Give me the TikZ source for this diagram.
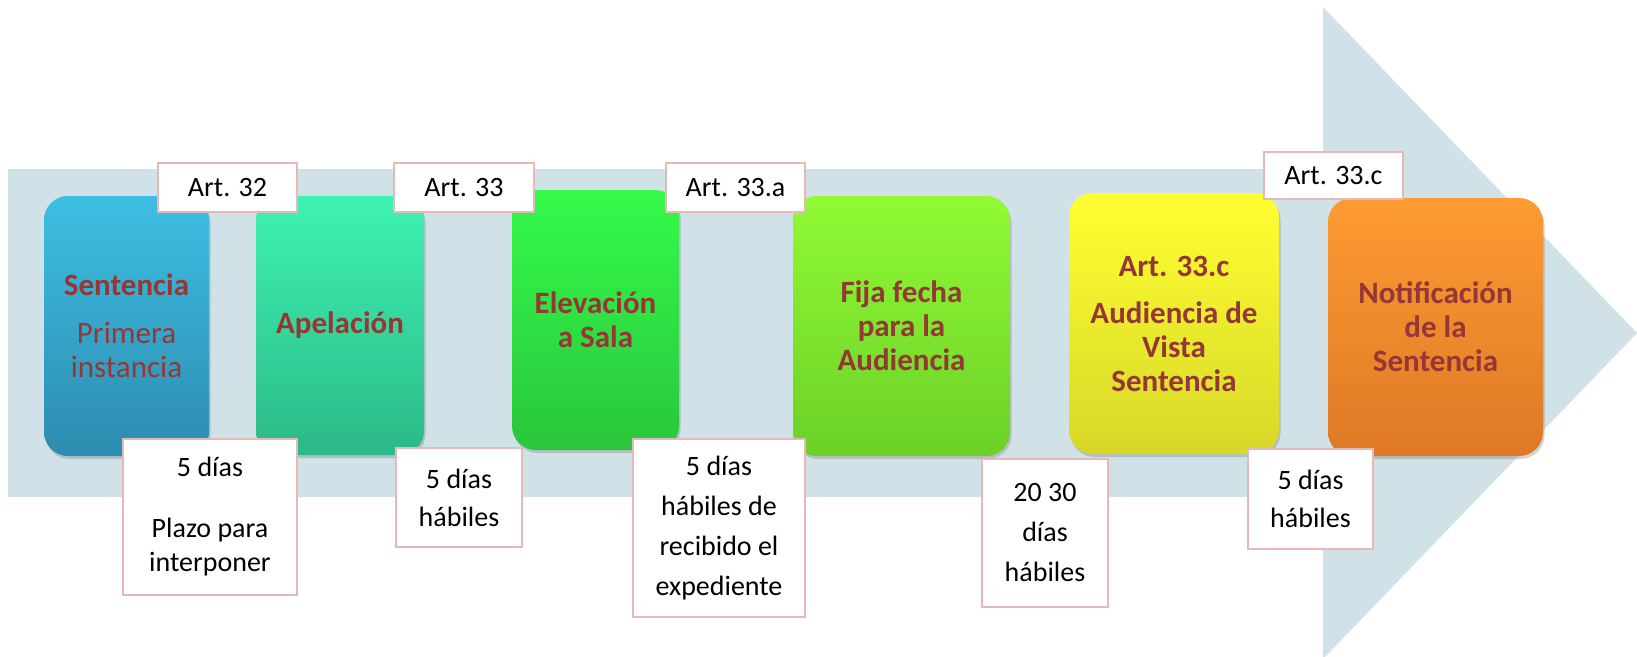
\documentclass[tikz,border=0pt]{standalone}
\usepackage{fontspec}
\setmainfont{Carlito}
\usetikzlibrary{shadows}
\definecolor{arrowbg}{RGB}{208,225,232}
\definecolor{txtred}{RGB}{149,55,53}
\definecolor{lblborder}{RGB}{230,184,183}
\definecolor{blueT}{RGB}{62,190,228}
\definecolor{blueB}{RGB}{44,140,175}
\definecolor{tealT}{RGB}{62,242,178}
\definecolor{tealB}{RGB}{44,185,135}
\definecolor{greenT}{RGB}{52,250,74}
\definecolor{greenB}{RGB}{42,198,60}
\definecolor{limeT}{RGB}{145,250,52}
\definecolor{limeB}{RGB}{108,208,40}
\definecolor{yelT}{RGB}{255,255,50}
\definecolor{yelB}{RGB}{215,215,40}
\definecolor{oraT}{RGB}{255,155,50}
\definecolor{oraB}{RGB}{222,120,38}
\begin{document}
\begin{tikzpicture}[x=1pt,y=-1pt,
  stepbox/.style={rounded corners=24pt, draw=none, align=center, text=txtred,
    font=\fontsize{31}{34}\selectfont\bfseries, inner sep=0pt,
    drop shadow={opacity=0.35,shadow xshift=1.5pt,shadow yshift=-3pt}},
  lbl/.style={draw=lblborder, line width=1.8pt, fill=white, align=center,
    font=\fontsize{28}{34}\selectfont, inner sep=0pt},
  lblw/.style={lbl, font=\fontsize{28}{40}\selectfont},
  lblm/.style={lbl, font=\fontsize{28}{38}\selectfont}
]
\useasboundingbox (0,0) rectangle (1637,656);
% big arrow
\fill[arrowbg] (8,169) -- (1323,169) -- (1323,7) -- (1637,333) -- (1323,659) -- (1323,497) -- (8,497) -- cycle;

% step boxes
\node[stepbox, top color=blueT, bottom color=blueB, minimum width=165, minimum height=260] (s1) at (126.5,326)
  {Sentencia\\[14pt]\mdseries Primera\\\mdseries instancia};
\node[stepbox, top color=tealT, bottom color=tealB, minimum width=168, minimum height=259] (s2) at (340,325.5)
  {Apelación};
\node[stepbox, top color=greenT, bottom color=greenB, minimum width=167, minimum height=260] (s3) at (595.5,320)
  {Elevación\\a Sala};
\node[stepbox, top color=limeT, bottom color=limeB, minimum width=217, minimum height=260] (s4) at (901.5,326)
  {Fija fecha\\para la\\Audiencia};
\node[stepbox, top color=yelT, bottom color=yelB, minimum width=210, minimum height=261] (s5) at (1174,323.5)
  {Art. 33.c\\[13pt]Audiencia de\\Vista\\Sentencia};
\node[stepbox, top color=oraT, bottom color=oraB, minimum width=215, minimum height=258] (s6) at (1435.5,327)
  {Notificación\\de la\\Sentencia};

% top labels
\node[lbl, minimum width=139, minimum height=49] (a1) at (227.5,187.5) {Art. 32};
\node[lbl, minimum width=140, minimum height=49] (a2) at (464,187.5) {Art. 33};
\node[lbl, minimum width=139, minimum height=49] (a3) at (735.5,187.5) {Art. 33.a};
\node[lbl, minimum width=139, minimum height=47] (a4) at (1333.5,175.5) {Art. 33.c};

% bottom labels
\node[lbl, minimum width=174, minimum height=156] (b1) at (210,517) {5 días\\[27pt]Plazo para\\interponer};
\node[lblm, minimum width=126, minimum height=99] (b2) at (459,497.5) {5 días\\hábiles};
\node[lblw, minimum width=172, minimum height=178] (b3) at (719,528) {5 días\\hábiles de\\recibido el\\expediente};
\node[lblw, minimum width=126, minimum height=148] (b4) at (1045,533) {20 30\\días\\hábiles};
\node[lblm, minimum width=125, minimum height=100] (b5) at (1310.5,499) {5 días\\hábiles};
\end{tikzpicture}
\end{document}
